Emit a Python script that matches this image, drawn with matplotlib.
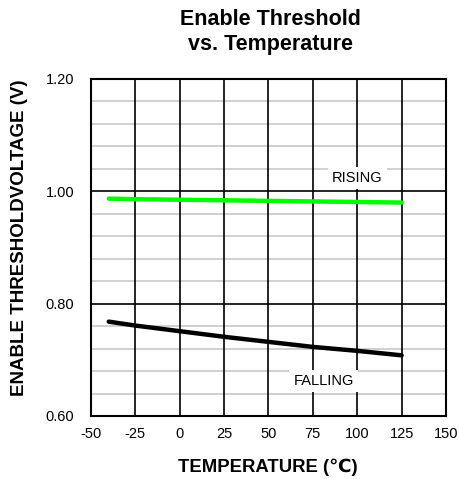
import numpy as np
import matplotlib
matplotlib.use('Agg')
import matplotlib.pyplot as plt

plt.rcParams['font.family'] = ['Liberation Sans', 'DejaVu Sans']

# ========== data ==========
temps = [-40, -25, 0, 25, 50, 75, 100, 125]
rising = [0.987, 0.986, 0.985, 0.984, 0.983, 0.982, 0.981, 0.980]
falling = [0.768, 0.761, 0.751, 0.741, 0.732, 0.723, 0.716, 0.708]
xTicks = [-50, -25, 0, 25, 50, 75, 100, 125, 150]
yTicks = [0.60, 0.80, 1.00, 1.20]

# ========== plot ==========
fig = plt.figure(figsize=(4.6, 4.79), dpi=100)
ax = fig.add_axes([91/460, 1-416/479, 355/460, 337/479])

for y in np.arange(0.64, 1.2, 0.04):
    if abs(round(y/0.2) * 0.2 - y) > 1e-6:
        ax.axhline(y, color='#c8c8c8', lw=1.2, zorder=1)
for y in yTicks:
    ax.axhline(y, color='black', lw=1.2, zorder=1)
for x in xTicks:
    ax.axvline(x, color='black', lw=1.2, zorder=1)

ax.plot(temps, rising, color='#00ff00', lw=3.2, solid_capstyle='round', zorder=3)
ax.plot(temps, falling, color='black', lw=3.2, solid_capstyle='round', zorder=3)

ax.text(100, 1.024, 'RISING', ha='center', va='center', fontsize=10.5,
        bbox=dict(facecolor='white', edgecolor='none', pad=3), zorder=2)
ax.text(81, 0.662, 'FALLING', ha='center', va='center', fontsize=10.5,
        bbox=dict(facecolor='white', edgecolor='none', pad=3), zorder=2)

ax.set_xlim(-50, 150)
ax.set_ylim(0.60, 1.20)
ax.set_xticks(xTicks)
ax.set_xticklabels([str(t) for t in xTicks])
ax.set_yticks(yTicks)
ax.set_yticklabels(['%.2f' % v for v in yTicks])
ax.tick_params(length=0, labelsize=10.5)
ax.tick_params(axis='x', pad=8)
ax.tick_params(axis='y', pad=12)
for s in ax.spines.values():
    s.set_linewidth(1.5)

fig.text(270/460, 1-32/479, 'Enable Threshold\nvs. Temperature', ha='center', va='center',
         fontsize=15.5, fontweight='bold', linespacing=1.3)
fig.text(268/460, 1-467/479, 'TEMPERATURE (\u2103)', ha='center', va='center',
         fontsize=13.3, fontweight='bold')
fig.text(20/460, 1-238/479, 'ENABLE THRESHOLDVOLTAGE (V)', ha='center', va='center',
         rotation=90, fontsize=13.5, fontweight='bold')

plt.savefig('out.png', dpi=100)
